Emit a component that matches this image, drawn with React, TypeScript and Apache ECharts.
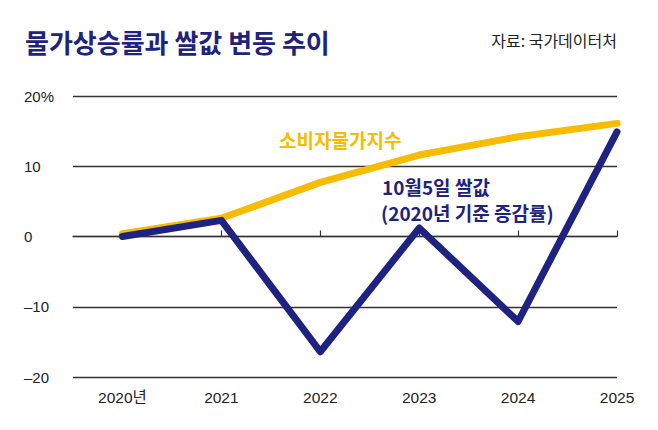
import React, { useEffect, useRef } from "react";
import * as echarts from "echarts";

const years = ["2020년", "2021", "2022", "2023", "2024", "2025"];
const cpi = [0.4, 2.6, 7.7, 11.6, 14.2, 16.1];
const rice = [0, 2.3, -16.4, 1.2, -12.1, 14.9];
const yTicks = [-20, -10, 0, 10, 20];

const NAVY = "#1e2280";
const YELLOW = "#f7bc00";
const FONT = "'Noto Sans CJK KR', 'Noto Sans', sans-serif";
const TICKFONT = "'Liberation Sans', 'Noto Sans CJK KR', sans-serif";

export default function App() {
  const ref = useRef<HTMLDivElement>(null);
  useEffect(() => {
    document.body.style.margin = "0";
    const chart = echarts.init(ref.current!, undefined, { renderer: "svg" });
    const idx = years.map((_, i) => i);
    chart.setOption({
      animation: false,
      backgroundColor: "#ffffff",
      textStyle: { fontFamily: FONT },
      grid: { left: 73, right: 41, top: 96, bottom: 53, containLabel: false },
      xAxis: {
        type: "value",
        min: -0.5,
        max: 5,
        axisLine: { show: true, lineStyle: { color: "#333", width: 1.3 } },
        axisTick: {
          show: true,
          inside: true,
          length: 6,
          customValues: idx,
          lineStyle: { color: "#333", width: 1.2 },
        },
        axisLabel: {
          customValues: idx,
          formatter: (v: number) => years[Math.round(v)] ?? "",
          color: "#222",
          fontSize: 15.5,
          margin: 13,
          fontFamily: TICKFONT,
        },
        splitLine: { show: false },
      },
      yAxis: {
        type: "value",
        min: yTicks[0],
        max: yTicks[yTicks.length - 1],
        interval: 10,
        axisLine: { show: false },
        axisTick: { show: false },
        axisLabel: {
          align: "left",
          margin: 49,
          color: "#222",
          fontSize: 15,
          fontFamily: TICKFONT,
          formatter: (v: number) =>
            v === 20 ? "20%" : v < 0 ? "\u2013" + Math.abs(v) : String(v),
        },
        splitLine: {
          show: true,
          lineStyle: {
            color: ["#333", "#333", "#888", "#333", "#333"],
            width: 1.3,
          },
        },
      },
      series: [
        {
          type: "line",
          data: cpi.map((v, i) => [i, v]),
          symbol: "none",
          lineStyle: { color: YELLOW, width: 7, cap: "round", join: "round" },
          z: 2,
        },
        {
          type: "line",
          data: rice.map((v, i) => [i, v]),
          symbol: "none",
          lineStyle: { color: NAVY, width: 7, cap: "round", join: "round" },
          z: 3,
        },
      ],
      graphic: [
        {
          type: "text",
          left: 25,
          top: 28,
          style: {
            text: "물가상승률과 쌀값 변동 추이",
            fill: NAVY,
            font: `bold 26px ${FONT}`,
          },
        },
        {
          type: "text",
          right: 41,
          top: 32,
          style: {
            text: "자료: 국가데이터처",
            fill: "#222",
            font: `16px ${FONT}`,
          },
        },
        {
          type: "text",
          left: 279,
          top: 130,
          style: {
            text: "소비자물가지수",
            fill: YELLOW,
            font: `bold 19px ${FONT}`,
          },
        },
        {
          type: "text",
          left: 382,
          top: 176,
          style: {
            text: "10월5일 쌀값",
            fill: NAVY,
            font: `bold 19px ${FONT}`,
            lineHeight: 21,
          },
        },
        {
          type: "text",
          left: 381,
          top: 202,
          style: {
            text: "(2020년 기준 증감률)",
            fill: NAVY,
            font: `bold 19px ${FONT}`,
            lineHeight: 21,
          },
        },
      ],
    });
    return () => chart.dispose();
  }, []);
  return <div ref={ref} style={{ width: 658, height: 430 }} />;
}
